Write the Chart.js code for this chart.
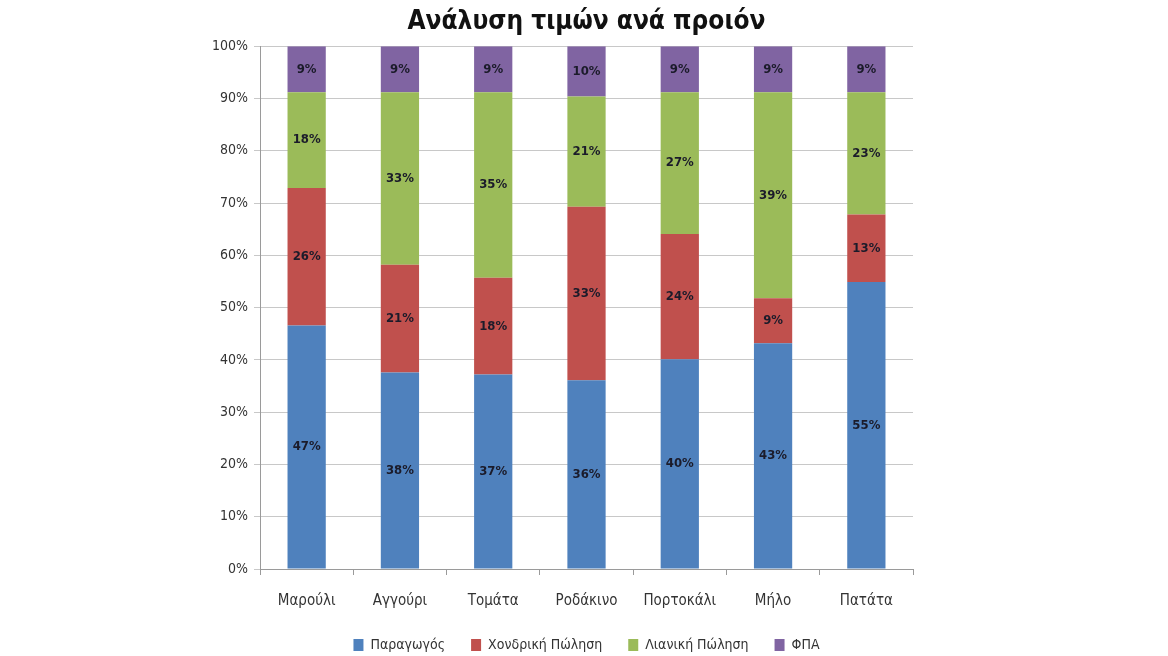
<!DOCTYPE html>
<html>
<head>
<meta charset="utf-8">
<script src="https://cdn.jsdelivr.net/npm/chart.js@4"></script>
<style>
  html, body { margin: 0; padding: 0; background: #fff; }
  #wrap { width: 1168px; height: 656px; }
</style>
</head>
<body>
<div id="wrap"><canvas id="priceChart"></canvas></div>
<script>
// Price breakdown per product (shares in %)
const products = ['Μαρούλι', 'Αγγούρι', 'Τομάτα', 'Ροδάκινο', 'Πορτοκάλι', 'Μήλο', 'Πατάτα'];
const producer = [46.6, 37.6, 37.2, 36.1, 40.1, 43.2, 54.9];
const wholesale = [26.3, 20.6, 18.5, 33.2, 24.0, 8.6, 12.9];
const retail = [18.3, 33.0, 35.5, 21.1, 27.1, 39.4, 23.4];
const vat = [8.8, 8.8, 8.8, 9.6, 8.8, 8.8, 8.8];
const shownLabels = {
    producer: ['47%', '38%', '37%', '36%', '40%', '43%', '55%'],
    wholesale: ['26%', '21%', '18%', '33%', '24%', '9%', '13%'],
    retail: ['18%', '33%', '35%', '21%', '27%', '39%', '23%'],
    vat: ['9%', '9%', '9%', '10%', '9%', '9%', '9%']
};
const yTicks = [0, 10, 20, 30, 40, 50, 60, 70, 80, 90, 100];

const fontFamily = '"Liberation Sans Narrow", "DejaVu Sans Condensed", "Liberation Sans", sans-serif';

// Draw the value label centred inside every bar segment
const segmentLabels = {
    id: 'segmentLabels',
    afterDatasetsDraw(chart) {
        const ctx = chart.ctx;
        ctx.save();
        ctx.font = 'bold 13px ' + fontFamily;
        ctx.fillStyle = '#1b1b2a';
        ctx.textAlign = 'center';
        ctx.textBaseline = 'middle';
        chart.data.datasets.forEach((ds, i) => {
            const meta = chart.getDatasetMeta(i);
            meta.data.forEach((bar, j) => {
                const midY = (bar.y + bar.base) / 2;
                ctx.fillText(ds.shown[j], bar.x, midY);
            });
        });
        ctx.restore();
    }
};

new Chart(document.getElementById('priceChart'), {
    type: 'bar',
    data: {
        labels: products,
        datasets: [
            { label: 'Παραγωγός', data: producer, shown: shownLabels.producer, backgroundColor: '#4f81bd' },
            { label: 'Χονδρική Πώληση', data: wholesale, shown: shownLabels.wholesale, backgroundColor: '#c0504d' },
            { label: 'Λιανική Πώληση', data: retail, shown: shownLabels.retail, backgroundColor: '#9bbb59' },
            { label: 'ΦΠΑ', data: vat, shown: shownLabels.vat, backgroundColor: '#8064a2' }
        ]
    },
    options: {
        responsive: true,
        maintainAspectRatio: false,
        animation: false,
        layout: { padding: { left: 206, right: 255, top: 4, bottom: -6 } },
        datasets: {
            bar: { barPercentage: 0.41, categoryPercentage: 1.0, borderWidth: 0 }
        },
        scales: {
            x: {
                stacked: true,
                afterFit(scale) { scale.height = 43; },
                grid: {
                    offset: true,
                    drawOnChartArea: false,
                    drawTicks: true,
                    tickLength: 6,
                    color: '#9a9a9a'
                },
                border: { color: '#9a9a9a' },
                ticks: {
                    color: '#333',
                    font: { family: fontFamily, size: 15 },
                    padding: 17
                }
            },
            y: {
                stacked: true,
                min: 0,
                max: 100,
                afterBuildTicks(axis) {
                    axis.ticks = yTicks.map(v => ({ value: v }));
                },
                grid: { color: '#c8c8c8', tickLength: 6 },
                border: { color: '#9a9a9a' },
                ticks: {
                    color: '#333',
                    font: { family: fontFamily, size: 14 },
                    padding: 6,
                    callback: v => v + '%'
                }
            }
        },
        plugins: {
            title: {
                display: true,
                fullSize: false,
                text: 'Ανάλυση τιμών ανά προιόν',
                color: '#111',
                font: { family: fontFamily, size: 26, weight: 'bold' },
                padding: { top: 3, bottom: 8 }
            },
            legend: {
                position: 'bottom',
                fullSize: false,
                labels: {
                    color: '#333',
                    font: { family: fontFamily, size: 14 },
                    boxWidth: 10,
                    boxHeight: 12,
                    padding: 26
                }
            },
            tooltip: { enabled: false }
        }
    },
    plugins: [segmentLabels]
});
</script>
</body>
</html>
